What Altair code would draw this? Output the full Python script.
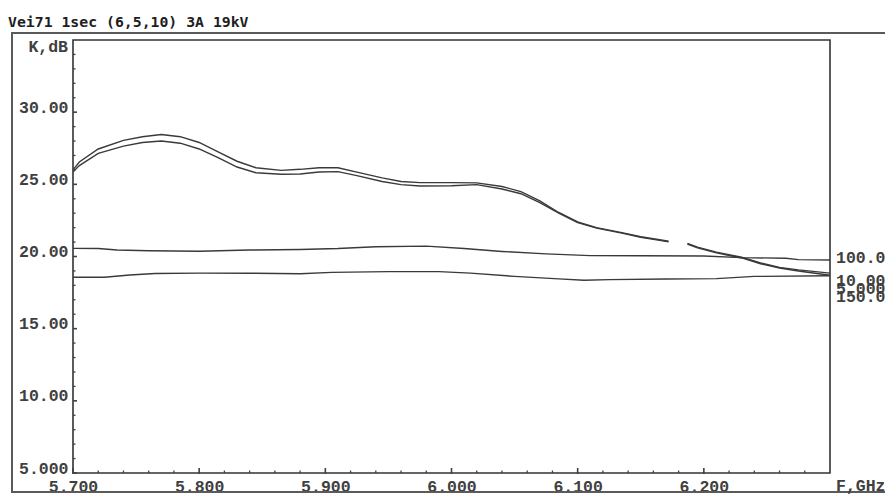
import altair as alt
import pandas as pd

# ---------------- data ----------------
title_text = "Vei71 1sec (6,5,10) 3A 19kV"
y_title = "K,dB"
x_title = "F,GHz"

series_names = ["10.00", "5.000", "100.0", "150.0"]

# upper curve of the close pair ("10.00"); None marks the small gap in the trace
freq_10 = [5.700, 5.705, 5.720, 5.740, 5.755, 5.770, 5.785, 5.800, 5.815, 5.830,
           5.845, 5.865, 5.880, 5.895, 5.910, 5.925, 5.945, 5.960, 5.975, 6.000,
           6.020, 6.040, 6.055, 6.070, 6.085, 6.100, 6.115, 6.135, 6.150, 6.165,
           6.172, 6.180, 6.187, 6.195, 6.210, 6.230, 6.245, 6.260, 6.275, 6.300]
val_10 = [26.00, 26.55, 27.45, 28.05, 28.30, 28.45, 28.30, 27.90, 27.25, 26.60,
          26.15, 25.97, 26.04, 26.15, 26.15, 25.85, 25.45, 25.20, 25.12, 25.12,
          25.10, 24.85, 24.50, 23.85, 23.05, 22.40, 22.00, 21.65, 21.37, 21.16,
          21.06, None, 20.90, 20.65, 20.30, 19.95, 19.55, 19.25, 19.07, 18.85]

# lower curve of the close pair ("5.000")
freq_5 = [5.700, 5.705, 5.720, 5.740, 5.755, 5.770, 5.785, 5.800, 5.815, 5.830,
          5.845, 5.865, 5.880, 5.895, 5.910, 5.925, 5.945, 5.960, 5.975, 6.000,
          6.020, 6.040, 6.055, 6.070, 6.085, 6.100, 6.115, 6.135, 6.150, 6.165,
          6.172, 6.180, 6.187, 6.195, 6.210, 6.230, 6.245, 6.260, 6.275, 6.300]
val_5 = [25.85, 26.30, 27.15, 27.65, 27.90, 28.00, 27.85, 27.45, 26.85, 26.20,
         25.80, 25.70, 25.72, 25.85, 25.88, 25.60, 25.20, 24.98, 24.88, 24.90,
         24.98, 24.68, 24.35, 23.74, 23.00, 22.35, 21.97, 21.62, 21.33, 21.12,
         21.02, None, 20.86, 20.60, 20.25, 19.90, 19.50, 19.20, 19.00, 18.70]

# upper flat trace ("100.0")
freq_100 = [5.700, 5.720, 5.735, 5.760, 5.800, 5.840, 5.880, 5.910, 5.940, 5.980,
            6.010, 6.040, 6.075, 6.110, 6.150, 6.200, 6.230, 6.265, 6.275, 6.300]
val_100 = [20.56, 20.55, 20.45, 20.40, 20.36, 20.45, 20.48, 20.55, 20.68, 20.72,
           20.55, 20.35, 20.18, 20.06, 20.05, 20.03, 19.92, 19.88, 19.78, 19.76]

# lower flat trace ("150.0")
freq_150 = [5.700, 5.725, 5.745, 5.765, 5.800, 5.840, 5.880, 5.905, 5.950, 5.990,
            6.015, 6.050, 6.085, 6.105, 6.125, 6.170, 6.210, 6.240, 6.300]
val_150 = [18.56, 18.56, 18.72, 18.82, 18.85, 18.84, 18.80, 18.90, 18.95, 18.95,
           18.85, 18.62, 18.45, 18.35, 18.40, 18.44, 18.47, 18.62, 18.67]

x_major = [5.7, 5.8, 5.9, 6.0, 6.1, 6.2]
x_minor = [5.72, 5.74, 5.76, 5.78, 5.82, 5.84, 5.86, 5.88, 5.92, 5.94, 5.96, 5.98,
           6.02, 6.04, 6.06, 6.08, 6.12, 6.14, 6.16, 6.18, 6.22, 6.24, 6.26, 6.28]
y_major = [5, 10, 15, 20, 25, 30]
y_minor = [6, 7, 8, 9, 11, 12, 13, 14, 16, 17, 18, 19, 21, 22, 23, 24,
           26, 27, 28, 29, 31, 32, 33, 34]

# ---------------- build tables ----------------
series_data = {
    "10.00": (freq_10, val_10),
    "5.000": (freq_5, val_5),
    "100.0": (freq_100, val_100),
    "150.0": (freq_150, val_150),
}
rows = []
last_points = {}
for name in series_names:
    fs, vs = series_data[name]
    seg = 0
    for f, v in zip(fs, vs):
        if v is None:
            seg += 1
            continue
        rows.append({"series": name, "seg": f"{name}-{seg}", "f": f, "v": v})
    last_points[name] = (fs[-1], vs[-1])
df = pd.DataFrame(rows)

W, H = 757, 433
LABEL_FONT = "Liberation Mono"
LABEL_WEIGHT = "bold"
LABEL_SIZE = 16.5
TXT = "#404040"
LINE = "#3a3a3a"

x_scale = alt.Scale(domain=[5.7, 6.3], nice=False, zero=False)
y_scale = alt.Scale(domain=[5, 35], nice=False, zero=False)

x_axis = alt.Axis(values=x_major, format=".4r", ticks=False, domain=False,
                  grid=False, title=None, labelFont=LABEL_FONT,
                  labelFontSize=LABEL_SIZE, labelFontWeight=LABEL_WEIGHT,
                  labelColor=TXT, labelBaseline="alphabetic", labelPadding=18,
                  labelFlush=False)
y_axis = alt.Axis(values=y_major, format=".4r", ticks=False, domain=False,
                  grid=False, title=None, labelFont=LABEL_FONT,
                  labelFontSize=LABEL_SIZE, labelFontWeight=LABEL_WEIGHT,
                  labelColor=TXT, labelBaseline="alphabetic", labelPadding=5,
                  labelFlush=False)


def X(field="f"):
    return alt.X(f"{field}:Q", scale=x_scale, axis=x_axis)


def Y(field="v"):
    return alt.Y(f"{field}:Q", scale=y_scale, axis=y_axis)


lines = alt.Chart(df).mark_line(stroke=LINE, strokeWidth=1.4).encode(
    x=X(), y=Y(), detail="seg:N")

y_major_ticks = alt.Chart(pd.DataFrame({"v": y_major})).mark_rule(
    color=TXT, strokeWidth=1.6).encode(y=Y(), x=alt.value(0), x2=alt.value(4))
y_minor_ticks = alt.Chart(pd.DataFrame({"v": y_minor})).mark_rule(
    color=TXT, strokeWidth=1.3).encode(y=Y(), x=alt.value(0), x2=alt.value(2.5))
x_major_ticks = alt.Chart(pd.DataFrame({"f": x_major})).mark_rule(
    color=TXT, strokeWidth=1.6).encode(x=X(), y=alt.value(H - 5), y2=alt.value(H + 1))
x_minor_ticks = alt.Chart(pd.DataFrame({"f": x_minor})).mark_rule(
    color=TXT, strokeWidth=1.3).encode(x=X(), y=alt.value(H - 2.5), y2=alt.value(H))

one = pd.DataFrame({"k": [0]})
frame = alt.Chart(one).mark_rect(filled=False, color="#5a5a5a", strokeWidth=2).encode(
    x=alt.value(-61), x2=alt.value(W + 80), y=alt.value(-7), y2=alt.value(H + 19))

title = alt.Chart(pd.DataFrame({"t": [title_text]})).mark_text(
    font="DejaVu Sans Mono", fontWeight="bold", fontSize=14.8, color="#1e1e1e",
    align="left", baseline="alphabetic").encode(
    text="t:N", x=alt.value(-65), y=alt.value(-13))

ylab = alt.Chart(pd.DataFrame({"t": [y_title]})).mark_text(
    font=LABEL_FONT, fontSize=LABEL_SIZE, fontWeight=LABEL_WEIGHT, color=TXT,
    align="right", baseline="alphabetic").encode(
    text="t:N", x=alt.value(-5), y=alt.value(12))

xlab = alt.Chart(pd.DataFrame({"t": [x_title]})).mark_text(
    font=LABEL_FONT, fontSize=LABEL_SIZE, fontWeight=LABEL_WEIGHT, color=TXT,
    align="left", baseline="alphabetic").encode(
    text="t:N", x=alt.value(W + 6), y=alt.value(H + 18))

label_dy = {"100.0": -2, "10.00": 8, "5.000": 13.5, "150.0": 21}
label_layers = []
for name in series_names:
    f_end, v_end = last_points[name]
    ldf = pd.DataFrame({"series": [name], "f": [f_end], "v": [v_end]})
    label_layers.append(
        alt.Chart(ldf).mark_text(font=LABEL_FONT, fontSize=LABEL_SIZE,
                                 fontWeight=LABEL_WEIGHT, color=TXT,
                                 align="left", baseline="middle", dx=6,
                                 dy=label_dy[name]).encode(
            x=X(), y=Y(), text="series:N"))

chart = alt.layer(
    frame, lines, y_major_ticks, y_minor_ticks, x_major_ticks, x_minor_ticks,
    title, ylab, xlab, *label_layers
).properties(
    width=W, height=H,
    autosize=alt.AutoSizeParams(type="none"),
    padding={"left": 73, "top": 40, "right": 55, "bottom": 21},
    background="white",
).configure_view(stroke="#333333", strokeWidth=1.6)

chart.save("out.html", embed_options={"renderer": "svg", "actions": False})
